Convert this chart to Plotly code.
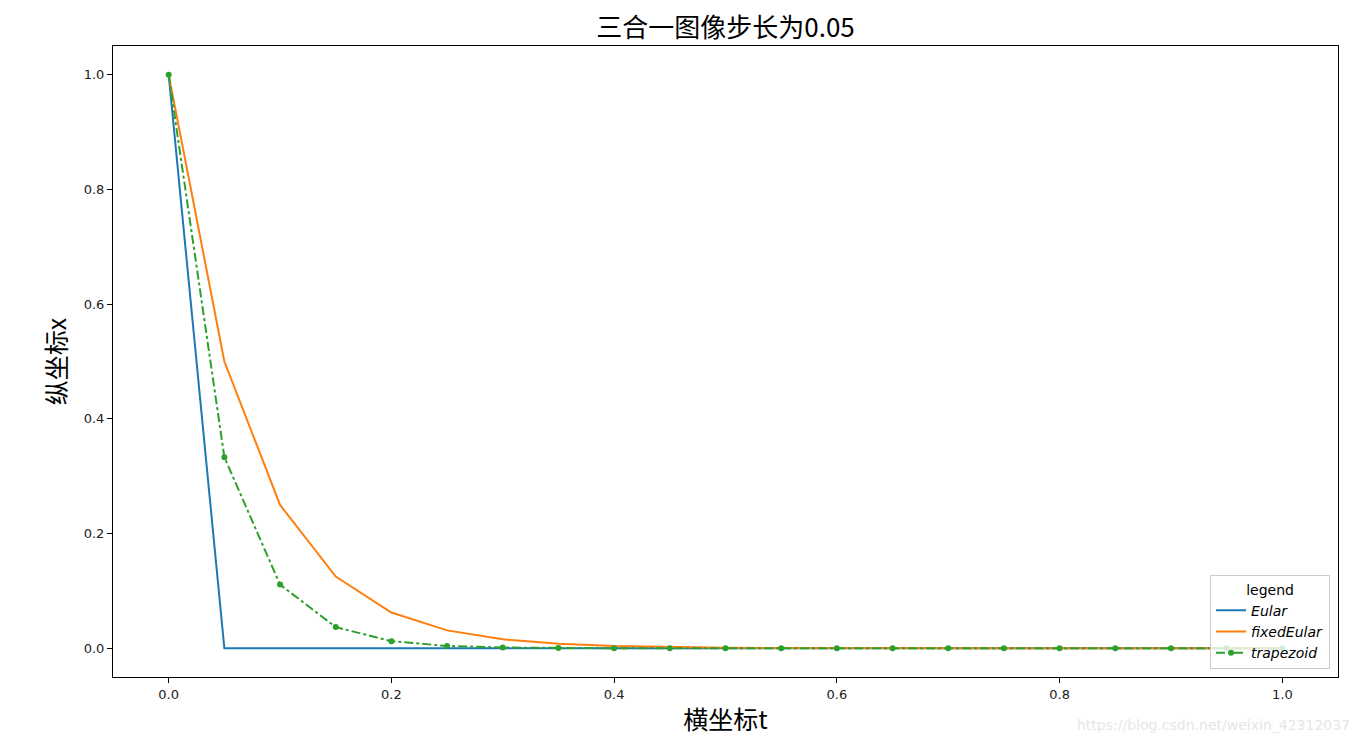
import plotly.graph_objects as go

t = [0.0, 0.05, 0.1, 0.15, 0.2, 0.25, 0.3, 0.35, 0.4, 0.45, 0.5, 0.55, 0.6, 0.65, 0.7, 0.75, 0.8, 0.85, 0.9, 0.95, 1.0]
eular = [1.0, 0.0, 0.0, 0.0, 0.0, 0.0, 0.0, 0.0, 0.0, 0.0, 0.0, 0.0, 0.0, 0.0, 0.0, 0.0, 0.0, 0.0, 0.0, 0.0, 0.0]
fixed_eular = [1.0, 0.5, 0.25, 0.125, 0.0625, 0.03125, 0.015625, 0.0078125, 0.0039, 0.00195, 0.00098,
               0.00049, 0.00024, 0.00012, 0.00006, 0.00003, 0.000015, 0.0000076, 0.0000038, 0.0000019, 0.00000095]
trapezoid = [1.0, 0.3333, 0.1111, 0.0370, 0.0123, 0.0041, 0.00137, 0.00046, 0.00015, 0.00005, 0.000017,
             0.0000056, 0.0000019, 0.0000006, 0.0000002, 0.0, 0.0, 0.0, 0.0, 0.0, 0.0]

xticks = [0.0, 0.2, 0.4, 0.6, 0.8, 1.0]
yticks = [0.0, 0.2, 0.4, 0.6, 0.8, 1.0]

fig = go.Figure()
fig.add_trace(go.Scatter(x=t, y=eular, mode="lines", name="<i>Eular</i>",
                         line=dict(color="#1f77b4", width=2)))
fig.add_trace(go.Scatter(x=t, y=fixed_eular, mode="lines", name="<i>fixedEular</i>",
                         line=dict(color="#ff7f0e", width=2)))
fig.add_trace(go.Scatter(x=t, y=trapezoid, mode="lines+markers", name="<i>trapezoid</i>",
                         line=dict(color="#2ca02c", width=2, dash="dashdot"),
                         marker=dict(color="#2ca02c", size=6, symbol="circle")))

axis_common = dict(showgrid=False, zeroline=False, showline=True, linecolor="black", linewidth=1,
                   mirror=True, ticks="outside", ticklen=5, tickcolor="black",
                   tickfont=dict(family="DejaVu Sans", size=13, color="#222"))

# plot area in window: x 113..1338, y 46..677 (page body has an 8px offset)
fig.update_layout(
    width=1366, height=745,
    margin=dict(l=105, r=36, t=38, b=76),
    paper_bgcolor="white", plot_bgcolor="white",
    title=dict(text="三合一图像步长为0.05", x=(725.5 - 8) / 1366, xanchor="center",
               y=1 - (28 - 8) / 745, yanchor="middle",
               font=dict(family="Noto Sans CJK SC", size=26, color="black")),
    xaxis=dict(range=[-0.05, 1.05], tickvals=xticks, ticktext=[f"{v:.1f}" for v in xticks],
               title=dict(text="横坐标t", font=dict(family="Noto Sans CJK SC", size=25, color="black"), standoff=10),
               **axis_common),
    yaxis=dict(range=[-0.05, 1.05], tickvals=yticks, ticktext=[f"{v:.1f}" for v in yticks],
               title=dict(text="纵坐标x", font=dict(family="Noto Sans CJK SC", size=25, color="black"), standoff=9),
               **axis_common),
    legend=dict(x=0.9935, xanchor="right", y=0.012, yanchor="bottom",
                bgcolor="rgba(255,255,255,0.8)", bordercolor="#cccccc", borderwidth=1,
                font=dict(family="DejaVu Sans", size=14, color="black"),
                title=dict(text="legend", side="top center", font=dict(family="DejaVu Sans", size=14, color="black")),
                itemwidth=30, tracegroupgap=2),
    showlegend=True,
)

fig.add_annotation(text="https://blog.csdn.net/weixin_42312037", xref="paper", yref="paper",
                   x=1.0 + 14 / 1225, xanchor="right", y=-(725 - 677) / 631, yanchor="middle", showarrow=False,
                   font=dict(family="DejaVu Sans", size=14, color="#e6e6e6"))

fig.write_html("out.html")
